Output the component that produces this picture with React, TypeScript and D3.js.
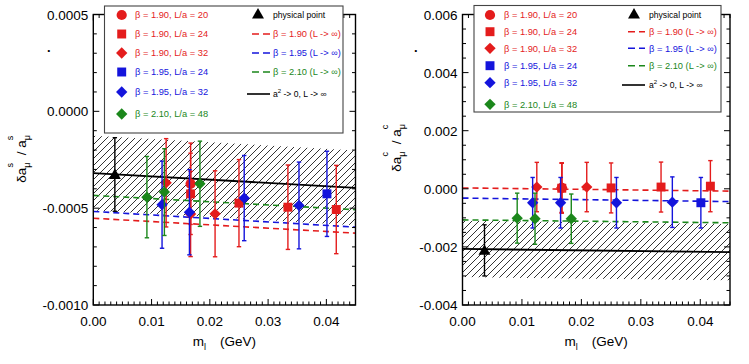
import * as d3 from "d3";
import React from "react";

// light quark mass (GeV) for each ensemble group
const mB190L20 = [0.0167];
const mB190L24 = [0.0167, 0.025, 0.0334, 0.0417];
const mB190L32 = [0.0125, 0.0167, 0.0209];
const mB195L24 = [0.0401];
const mB195L32 = [0.0118, 0.0165, 0.0259, 0.0353];
const mB210L48 = [0.0092, 0.0122, 0.0183];
const mPhys = [0.0037];

// strange: delta a_mu^s / a_mu^s
const sB190L20 = [-0.000374];
const sB190L20Err = [0.00021];
const sB190L24 = [-0.000426, -0.000474, -0.000495, -0.000507];
const sB190L24Err = [0.00021, 0.000225, 0.000218, 0.000228];
const sB190L32 = [-0.000369, -0.00053, -0.000529];
const sB190L32Err = [0.000228, 0.00022, 0.000222];
const sB195L24 = [-0.000426];
const sB195L24Err = [0.00022];
const sB195L32 = [-0.000482, -0.000521, -0.000448, -0.000486];
const sB195L32Err = [0.000225, 0.00022, 0.00022, 0.000224];
const sB210L48 = [-0.000443, -0.000417, -0.000374];
const sB210L48Err = [0.00021, 0.000224, 0.00022];
const sPhys = [-0.000326];
const sPhysErr = [0.00019];

// charm: delta a_mu^c / a_mu^c
const cB190L20 = [0.00003];
const cB190L20Err = [0.00086];
const cB190L24 = [0.00002, 0.00003, 0.00006, 0.00009];
const cB190L24Err = [0.00086, 0.00086, 0.00086, 0.00088];
const cB190L32 = [0.00006, 0.00004, 0.00006];
const cB190L32Err = [0.00085, 0.00085, 0.00085];
const cB195L24 = [-0.00048];
const cB195L24Err = [0.00087];
const cB195L32 = [-0.00048, -0.00048, -0.00048, -0.00046];
const cB195L32Err = [0.00087, 0.00087, 0.00087, 0.00087];
const cB210L48 = [-0.00101, -0.00103, -0.00103];
const cB210L48Err = [0.00086, 0.00088, 0.00085];
const cPhys = [-0.00212];
const cPhysErr = [0.00088];

// fit curves, evaluated at the ends of the mass range
const fitM = [0, 0.045];
const sFitB190 = [-0.000552, -0.000629];
const sFitB195 = [-0.000517, -0.000598];
const sFitB210 = [-0.000434, -0.000508];
const sFitCont = [-0.000319, -0.000395];
const sBandHalf = 0.000193;
const cFitB190 = [0.00003, -0.00008];
const cFitB195 = [-0.00032, -0.00044];
const cFitB210 = [-0.00107, -0.00117];
const cFitCont = [-0.00207, -0.00218];
const cBandHalf = 0.00097;

const xTicks = [0, 0.01, 0.02, 0.03, 0.04];
const sYTicks = [0.0005, 0, -0.0005, -0.001];
const cYTicks = [0.006, 0.004, 0.002, 0, -0.002, -0.004];

const pointLabels = [
  "β = 1.90, L/a = 20",
  "β = 1.90, L/a = 24",
  "β = 1.90, L/a = 32",
  "β = 1.95, L/a = 24",
  "β = 1.95, L/a = 32",
  "β = 2.10, L/a = 48",
];
const lineLabels = ["β = 1.90 (L -> ∞)", "β = 1.95 (L -> ∞)", "β = 2.10 (L -> ∞)"];

const RED = "#e41c1c";
const BLUE = "#1414dc";
const GREEN = "#1b871b";
const FONT = "'Liberation Sans', Arial, Helvetica, sans-serif";

const sym = (shape, size) => {
  const t = shape === "circle" ? d3.symbolCircle : shape === "triangle" ? d3.symbolTriangle : d3.symbolSquare;
  return d3.symbol().type(t).size(size)();
};

const Marker = ({ shape, cx, cy, color }) => {
  if (shape === "diamond")
    return <path d={sym("square", 64)} transform={`translate(${cx},${cy}) rotate(45)`} fill={color} />;
  if (shape === "square") return <path d={sym("square", 80)} transform={`translate(${cx},${cy})`} fill={color} />;
  if (shape === "triangle")
    return <path d={sym("triangle", 62)} transform={`translate(${cx},${cy + 1})`} fill={color} />;
  return <path d={sym("circle", 82)} transform={`translate(${cx},${cy})`} fill={color} />;
};

const fmt = (digits) => (v) => {
  const s = d3.format(`.${digits}f`)(Math.abs(v) < 1e-12 ? 0 : v);
  return s.replace("−", "-");
};

function Panel({ cfg }) {
  const x = d3.scaleLinear().domain([0, 0.045]).range([cfg.x0, cfg.x1]);
  const y = d3.scaleLinear().domain(cfg.yDomain).range([305, 14.5]);
  const [yLo, yHi] = cfg.yDomain;
  const line = d3
    .line()
    .x((d) => x(d[0]))
    .y((d) => y(d[1]));
  const pts = (vals) => fitM.map((m, i) => [m, vals[i]]);
  const band = d3
    .area()
    .x((d) => x(d[0]))
    .y0((d) => y(d[1] - cfg.bandHalf))
    .y1((d) => y(d[1] + cfg.bandHalf));

  const xMinor = d3.range(0, 0.0451, 0.001).map((v) => +v.toFixed(4));
  const yMinor = d3.range(yLo, yHi + cfg.yMinor / 2, cfg.yMinor).map((v) => +v.toFixed(6));
  const isMajorX = (v) => Math.abs(v / 0.01 - Math.round(v / 0.01)) < 1e-6;
  const isMajorY = (v) => Math.abs(v / cfg.yMajor - Math.round(v / cfg.yMajor)) < 1e-6;
  const clipId = `clip-${cfg.id}`;
  const hatchId = `hatch-${cfg.id}`;
  const L = cfg.legend;

  return (
    <g fontFamily={FONT}>
      <defs>
        <clipPath id={clipId}>
          <rect x={cfg.x0} y={14.5} width={cfg.x1 - cfg.x0} height={305 - 14.5} />
        </clipPath>
        <pattern id={hatchId} patternUnits="userSpaceOnUse" width={7} height={7}>
          <path d="M0,7 L7,0 M-1,1 L1,-1 M6,8 L8,6" stroke="#000" strokeWidth={0.8} />
        </pattern>
      </defs>

      <g clipPath={`url(#${clipId})`}>
        <path d={band(pts(cfg.fitCont))} fill={`url(#${hatchId})`} />
        <path d={line(pts(cfg.fitCont))} stroke="#000" strokeWidth={1.8} fill="none" />
        {cfg.fits.map((f, i) => (
          <path key={i} d={line(pts(f.vals))} stroke={f.color} strokeWidth={1.6} strokeDasharray="6,4" fill="none" />
        ))}
      </g>

      {cfg.series.map((s, si) =>
        s.m.map((m, i) => {
          const cx = x(m);
          const top = y(s.v[i] + s.err[i]);
          const bot = y(s.v[i] - s.err[i]);
          return (
            <g key={`${si}-${i}`}>
              <line x1={cx} x2={cx} y1={top} y2={bot} stroke={s.color} strokeWidth={1.4} />
              <line x1={cx - 2.2} x2={cx + 2.2} y1={top} y2={top} stroke={s.color} strokeWidth={1.4} />
              <line x1={cx - 2.2} x2={cx + 2.2} y1={bot} y2={bot} stroke={s.color} strokeWidth={1.4} />
              <Marker shape={s.shape} cx={cx} cy={y(s.v[i])} color={s.color} />
            </g>
          );
        })
      )}

      {/* ticks */}
      {xMinor.map((v, i) => {
        const len = isMajorX(v) ? 6 : 3.5;
        return (
          <g key={`xt${i}`} stroke="#000" strokeWidth={1}>
            <line x1={x(v)} x2={x(v)} y1={305} y2={305 - len} />
            <line x1={x(v)} x2={x(v)} y1={14.5} y2={14.5 + len} />
          </g>
        );
      })}
      {yMinor.map((v, i) => {
        const len = isMajorY(v) ? 6 : 3.5;
        return (
          <g key={`yt${i}`} stroke="#000" strokeWidth={1}>
            <line x1={cfg.x0} x2={cfg.x0 + len} y1={y(v)} y2={y(v)} />
            <line x1={cfg.x1} x2={cfg.x1 - len} y1={y(v)} y2={y(v)} />
          </g>
        );
      })}
      <rect x={cfg.x0} y={14.5} width={cfg.x1 - cfg.x0} height={305 - 14.5} fill="none" stroke="#000" strokeWidth={1.4} />

      {xTicks.map((v) => (
        <text key={`xl${v}`} x={x(v)} y={326} textAnchor="middle" fontSize={13.5}>
          {fmt(2)(v)}
        </text>
      ))}
      {cfg.yTicks.map((v) => (
        <text key={`yl${v}`} x={cfg.x0 - 5} y={y(v) + 5} textAnchor="end" fontSize={13.5}>
          {fmt(cfg.yDigits)(v)}
        </text>
      ))}

      <text x={(cfg.x0 + cfg.x1) / 2} y={346} textAnchor="middle" fontSize={13.5}>
        m
        <tspan fontSize={9} dy={4}>
          l
        </tspan>
        <tspan dx={14} dy={-4}>
          (GeV)
        </tspan>
      </text>

      <text transform={`translate(${cfg.yTitleX},${cfg.yTitleY}) rotate(-90)`} textAnchor="middle" fontSize={13.5}>
        δa
        <tspan fontSize={9} dy={4}>
          μ
        </tspan>
        <tspan fontSize={9} dx={-5} dy={-17}>
          {cfg.flavour}
        </tspan>
        <tspan dx={4} dy={13}>
          {" /  a"}
        </tspan>
        <tspan fontSize={9} dy={4}>
          μ
        </tspan>
        <tspan fontSize={9} dx={-5} dy={-17}>
          {cfg.flavour}
        </tspan>
      </text>
      <text x={cfg.dotX} y={52} fontSize={13} fontWeight="bold">
        .
      </text>

      {/* legend */}
      <rect x={L.x0} y={L.y0} width={L.x1 - L.x0} height={L.y1 - L.y0} fill="#fff" stroke="#444" strokeWidth={1.1} />
      {pointLabels.map((lab, i) => {
        const s = cfg.legendSeries[i];
        return (
          <g key={`lp${i}`}>
            <Marker shape={s.shape} cx={L.markX} cy={L.rows[i]} color={s.color} />
            <text x={L.textX} y={L.rows[i] + 3.3} fontSize={9.3} fill={s.color}>
              {lab}
            </text>
          </g>
        );
      })}
      <Marker shape="triangle" cx={L.triX} cy={L.rows[0] - 1} color="#000" />
      <text x={L.rightTextX} y={L.rows[0] + 3} fontSize={8.6}>
        physical point
      </text>
      {lineLabels.map((lab, i) => (
        <g key={`ll${i}`}>
          <line
            x1={L.dashX0}
            x2={L.dashX1}
            y1={L.rows[i + 1]}
            y2={L.rows[i + 1]}
            stroke={cfg.fits[i].color}
            strokeWidth={1.6}
            strokeDasharray="7,4"
          />
          <text x={L.rightTextX} y={L.rows[i + 1] + 3.3} fontSize={9.3} fill={cfg.fits[i].color}>
            {lab}
          </text>
        </g>
      ))}
      <line x1={L.solidX0} x2={L.dashX1} y1={L.contY} y2={L.contY} stroke="#000" strokeWidth={1.6} />
      <text x={L.rightTextX} y={L.contY + 3} fontSize={8.6}>
        a
        <tspan fontSize={6} dy={-4}>
          2
        </tspan>
        <tspan dy={4}>{" -> 0, L -> ∞"}</tspan>
      </text>
    </g>
  );
}

const legendSeries = [
  { shape: "circle", color: RED },
  { shape: "square", color: RED },
  { shape: "diamond", color: RED },
  { shape: "square", color: BLUE },
  { shape: "diamond", color: BLUE },
  { shape: "diamond", color: GREEN },
];

const makeSeries = (d) => [
  { m: mB190L24, v: d.b190L24, err: d.b190L24Err, color: RED, shape: "square" },
  { m: mB190L32, v: d.b190L32, err: d.b190L32Err, color: RED, shape: "diamond" },
  { m: mB190L20, v: d.b190L20, err: d.b190L20Err, color: RED, shape: "circle" },
  { m: mB195L24, v: d.b195L24, err: d.b195L24Err, color: BLUE, shape: "square" },
  { m: mB195L32, v: d.b195L32, err: d.b195L32Err, color: BLUE, shape: "diamond" },
  { m: mB210L48, v: d.b210L48, err: d.b210L48Err, color: GREEN, shape: "diamond" },
  { m: mPhys, v: d.phys, err: d.physErr, color: "#000", shape: "triangle" },
];

const strangeCfg = {
  id: "s",
  flavour: "s",
  x0: 93.3,
  x1: 355.5,
  yDomain: [-0.001, 0.0005],
  yMajor: 0.0005,
  yMinor: 0.0001,
  yTicks: sYTicks,
  yDigits: 4,
  yTitleX: 26,
  yTitleY: 159,
  dotX: 47,
  bandHalf: sBandHalf,
  fitCont: sFitCont,
  fits: [
    { vals: sFitB190, color: RED },
    { vals: sFitB195, color: BLUE },
    { vals: sFitB210, color: GREEN },
  ],
  series: makeSeries({
    b190L20: sB190L20, b190L20Err: sB190L20Err,
    b190L24: sB190L24, b190L24Err: sB190L24Err,
    b190L32: sB190L32, b190L32Err: sB190L32Err,
    b195L24: sB195L24, b195L24Err: sB195L24Err,
    b195L32: sB195L32, b195L32Err: sB195L32Err,
    b210L48: sB210L48, b210L48Err: sB210L48Err,
    phys: sPhys, physErr: sPhysErr,
  }),
  legendSeries,
  legend: {
    x0: 104.5, x1: 343, y0: 6, y1: 133,
    rows: [15, 34, 53, 72, 92, 114],
    markX: 121.7, textX: 135,
    triX: 258, rightTextX: 273,
    dashX0: 252, dashX1: 270, solidX0: 247, contY: 94,
  },
};

const charmCfg = {
  id: "c",
  flavour: "c",
  x0: 462.5,
  x1: 730,
  yDomain: [-0.004, 0.006],
  yMajor: 0.002,
  yMinor: 0.0005,
  yTicks: cYTicks,
  yDigits: 3,
  yTitleX: 401,
  yTitleY: 148,
  dotX: 414,
  bandHalf: cBandHalf,
  fitCont: cFitCont,
  fits: [
    { vals: cFitB190, color: RED },
    { vals: cFitB195, color: BLUE },
    { vals: cFitB210, color: GREEN },
  ],
  series: makeSeries({
    b190L20: cB190L20, b190L20Err: cB190L20Err,
    b190L24: cB190L24, b190L24Err: cB190L24Err,
    b190L32: cB190L32, b190L32Err: cB190L32Err,
    b195L24: cB195L24, b195L24Err: cB195L24Err,
    b195L32: cB195L32, b195L32Err: cB195L32Err,
    b210L48: cB210L48, b210L48Err: cB210L48Err,
    phys: cPhys, physErr: cPhysErr,
  }),
  legendSeries,
  legend: {
    x0: 474, x1: 721, y0: 5.5, y1: 112,
    rows: [15, 31.7, 48.3, 65.7, 82.7, 104.3],
    markX: 490, textX: 504,
    triX: 634, rightTextX: 649,
    dashX0: 628, dashX1: 645, solidX0: 622, contY: 85,
  },
};

export default function App() {
  return (
    <svg
      width={749}
      height={364}
      style={{ position: "absolute", left: 0, top: 0, background: "#fff" }}
    >
      <rect width={749} height={364} fill="#fff" />
      <Panel cfg={strangeCfg} />
      <Panel cfg={charmCfg} />
    </svg>
  );
}
